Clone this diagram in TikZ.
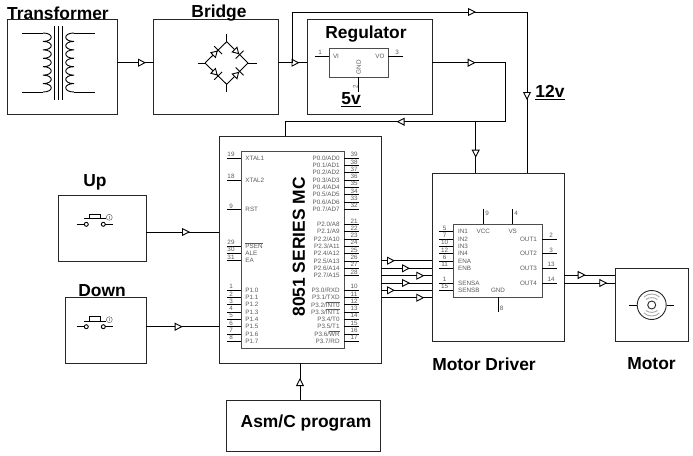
\documentclass[tikz,border=0pt]{standalone}
\usepackage{amsmath}
\usepackage{fontspec}
\setmainfont{Liberation Sans}
\usetikzlibrary{arrows.meta,calc,decorations.markings}

\begin{document}
\begin{tikzpicture}[
    x = 1pt, y = -1pt, % same numbers as the pixels of the picture
    line width = 0.9pt,
    block/.style = {draw = black!85, inner sep = 0pt, outer sep = 0pt},
    chip/.style = {draw = black!70, line width = 1pt, inner sep = 0pt, outer sep = 0pt},
    title/.style = {font = \bfseries\fontsize{17.4}{20}\selectfont},
    pinlabel/.style = {font = \fontsize{6.3}{7}\selectfont, text = black!65, inner sep = 0pt},
    flowtip/.tip = {Triangle[fill = white, length = 8pt, width = 8pt]},
    diodetip/.tip = {Triangle[fill = white, length = 7pt, width = 8pt] Bar[width = 11pt, sep = 0pt]},
    flow/.style = {postaction = {decorate, decoration = {markings,
        mark = at position #1 with {\arrow{flowtip}}}}},
    diode/.style = {postaction = {decorate, decoration = {markings,
        mark = at position 0.62 with {\arrow{diodetip}}}}}
    ]
    \useasboundingbox (0,0) rectangle (693,455);

    % blocks
    \node[block, minimum width = 110pt, minimum height = 95pt] (xfmr) at (62,66.5) {};
    \node[block, minimum width = 124.5pt, minimum height = 95pt] (bridge) at (215.75,66.5) {};
    \node[block, minimum width = 125pt, minimum height = 95pt] (reg) at (369.5,66.5) {};
    \node[block, minimum width = 162pt, minimum height = 227pt] (mcu) at (300,249.5) {};
    \node[block, minimum width = 132pt, minimum height = 168pt] (drv) at (498,257) {};
    \node[block, minimum width = 73pt, minimum height = 73pt] (mtr) at (651.5,304.5) {};
    \node[block, minimum width = 88pt, minimum height = 66pt] (up) at (102,228) {};
    \node[block, minimum width = 81pt, minimum height = 66pt] (down) at (105.5,330) {};
    \node[block, minimum width = 154pt, minimum height = 51pt] (asm) at (303.7,425.5) {};

    % titles
    \node[title] (t1) at (58,13) {Transformer};
    \node[title] (t2) at (219,13) {Bridge};
    \node[title] (t3) at (366,34) {Regulator};
    \node[title] (t4) at (351,100) {\underline{5v}};
    \node[title] (t5) at (550,93) {\underline{12v}};
    \node[title] (t6) at (95,182) {Up};
    \node[title] (t7) at (102,291) {Down};
    \node[title] (t8) at (484,364) {Motor Driver};
    \node[title] (t9) at (651.5,364) {Motor};
    \node[title] (t10) at (306,423) {Asm/C program};

    % connectors
    \coordinate (rail) at (0,62.7);
    \coordinate (top) at (292.7,12);
    \coordinate (feed) at (527,12);
    \coordinate (ret) at (505.3,121.7);
    \coordinate (tap) at (475.7,121.7);
    \draw[flow = 29pt] (xfmr.east |- rail) -- (bridge.west |- rail);
    \draw[flow = 21.5pt] (bridge.east |- rail) -- (reg.west |- rail);
    \draw[flow = 234pt, flow = 373pt] (top |- rail) -- (top) -- (feed) -- (feed |- drv.north);
    \draw[flow = 43.7pt, flow = 241pt] (reg.east |- rail) -- (ret |- rail) -- (ret) -- (285,121.7) -- (285,136);
    \draw[flow = 36pt] (tap) -- (tap |- drv.north);
    \foreach \yy/\dd in {260.7/14,268.3/29,275.7/43.3,283/29,290.3/14,297.7/43.3}
        \draw[flow = \dd pt] (mcu.east |- 0,\yy) -- (drv.west |- 0,\yy);
    \draw[flow = 21.7pt] (drv.east |- 0,275) -- (mtr.west |- 0,275);
    \draw[flow = 43.3pt] (drv.east |- 0,283) -- (mtr.west |- 0,283);
    \draw[flow = 44pt] (up.east |- 0,232) -- (mcu.west |- 0,232);
    \draw[flow = 36.7pt] (down.east |- 0,326.7) -- (mcu.west |- 0,326.7);
    \draw[flow = 22pt] (asm.north -| 300,0) -- (mcu.south -| 300,0);

    % transformer
    \foreach \xx/\dir in {43/11,74/-11} {
        \draw (\xx,33) \foreach \i in {0,...,6} {
            .. controls ($(\xx,33)+(\dir,8.43*\i)$) and ($(\xx,33)+(\dir,8.43*\i+8.43)$) .. ($(\xx,33)+(0,8.43*\i+8.43)$)};
    }
    \draw (22,33) -- (43,33) (22,92) -- (43,92) (74,33) -- (95,33) (74,92) -- (95,92);
    \foreach \xx in {54.3,58,62}
        \draw (\xx,26) -- (\xx,100);

    % bridge
    \coordinate (bt) at (226.7,41.7);
    \coordinate (br) at (248,63);
    \coordinate (bb) at (226.7,84.3);
    \coordinate (bl) at (205,63);
    \draw (bt) -- (226.7,33.7) (bb) -- (226.7,92) (bl) -- (197.5,63) (br) -- (256.5,63);
    \draw[diode] (bl) -- (bt);
    \draw[diode] (bt) -- (br);
    \draw[diode] (bl) -- (bb);
    \draw[diode] (bb) -- (br);

    % regulator
    \node[chip, minimum width = 59pt, minimum height = 29pt] (regchip) at (358.5,62.5) {};
    \draw (regchip.west |- 0,56) -- (314.7,56) (regchip.east |- 0,56) -- (402.7,56);
    \draw (358.7,77) -- (358.7,92);
    \node[pinlabel] (rp1) at (320,52) {1};
    \node[pinlabel] (rp3) at (397,52) {3};
    \node[pinlabel] (rvi) at (336,56) {VI};
    \node[pinlabel] (rvo) at (380,56) {VO};
    \node[pinlabel, rotate = 90] (rgnd) at (358.7,67) {GND};
    \node[pinlabel, rotate = 90] (rp2) at (355.5,87) {2};

    % microcontroller
    \node[chip, minimum width = 103pt, minimum height = 197pt] (mcuchip) at (292.5,249.5) {};
    \node[font = \bfseries\fontsize{17.4}{20}\selectfont, rotate = 90] (mcuname) at (299,247) {8051 SERIES MC};
    \foreach \yy/\nn/\tt in {158/19/XTAL1,180/18/XTAL2,209.5/9/RST,246/29/\(\overline{\mbox{PSEN}}\),253.3/30/ALE,260.7/31/EA} {
        \draw (227,\yy) -- (241,\yy);
        \node[pinlabel] at (231,\yy-3.5) {\nn};
        \node[pinlabel, anchor = west] at (245,\yy) {\tt};
    }
    \foreach \i [evaluate = \i as \yy using 290+7.33*\i, evaluate = \i as \nn using int(\i+1)] in {0,...,7} {
        \draw (227,\yy) -- (241,\yy);
        \node[pinlabel] at (231,\yy-3.5) {\nn};
        \node[pinlabel, anchor = west] at (245,\yy) {P1.\i};
    }
    \foreach \i [evaluate = \i as \yy using 158+7.33*\i, evaluate = \i as \nn using int(39-\i)] in {0,...,7} {
        \draw (344,\yy) -- (359,\yy);
        \node[pinlabel] at (354,\yy-3.5) {\nn};
        \node[pinlabel, anchor = east] at (340,\yy) {P0.\i/AD\i};
    }
    \foreach \i [evaluate = \i as \yy using 224.3+7.33*\i, evaluate = \i as \nn using int(21+\i), evaluate = \i as \aa using int(8+\i)] in {0,...,7} {
        \draw (344,\yy) -- (359,\yy);
        \node[pinlabel] at (354,\yy-3.5) {\nn};
        \node[pinlabel, anchor = east] at (340,\yy) {P2.\i/A\aa};
    }
    \foreach \i/\tt [evaluate = \i as \yy using 290+7.33*\i, evaluate = \i as \nn using int(10+\i)] in {0/RXD,1/TXD,2/\(\overline{\mbox{INT0}}\),3/\(\overline{\mbox{INT1}}\),4/T0,5/T1,6/\(\overline{\mbox{WR}}\),7/RD} {
        \draw (344,\yy) -- (359,\yy);
        \node[pinlabel] at (354,\yy-3.5) {\nn};
        \node[pinlabel, anchor = east] at (340,\yy) {P3.\i/\tt};
    }

    % motor driver
    \node[chip, minimum width = 89pt, minimum height = 73pt] (drvchip) at (497.5,260.5) {};
    \foreach \yy/\nn/\tt in {231.7/5/IN1,239/7/IN2,246.3/10/IN3,253.7/12/IN4,261/6/ENA,268.3/11/ENB,283/1/SENSA,290.3/15/SENSB} {
        \draw (439,\yy) -- (453,\yy);
        \node[pinlabel] at (444.7,\yy-3.5) {\nn};
        \node[pinlabel, anchor = west] at (457.7,\yy) {\tt};
    }
    \foreach \yy/\nn/\tt in {239/2/OUT1,253.7/3/OUT2,268.3/13/OUT3,283/14/OUT4} {
        \draw (542,\yy) -- (556.7,\yy);
        \node[pinlabel] at (551,\yy-3.5) {\nn};
        \node[pinlabel, anchor = east] at (537.3,\yy) {\tt};
    }
    \draw (483.3,209) -- (483.3,224) (512.7,209) -- (512.7,224) (498,297) -- (498,312);
    \node[pinlabel] (dvcc) at (483.3,231.7) {VCC};
    \node[pinlabel] (dvs) at (512.7,231.7) {VS};
    \node[pinlabel] (dgnd) at (498,290.3) {GND};
    \node[pinlabel] (dp9) at (487,213.7) {9};
    \node[pinlabel] (dp4) at (516,213.7) {4};
    \node[pinlabel] (dp8) at (501.5,308) {8};

    % push buttons
    \foreach \dy in {0,102.4} {
        \draw (89,214+\dy) -- (100.7,214+\dy) (89,214+\dy) -- (89,218.7+\dy) (100.7,214+\dy) -- (100.7,218.7+\dy);
        \draw (84,218.7+\dy) -- (105.7,218.7+\dy);
        \draw (86.3,224.3+\dy) circle (2pt) (103.3,224.3+\dy) circle (2pt);
        \draw (76.7,224.3+\dy) -- (84.3,224.3+\dy) (105.3,224.3+\dy) -- (113.3,224.3+\dy);
        \draw[black!60, line width = 0.5pt] (109.3,217.3+\dy) circle (3pt) (109.3,215.8+\dy) -- (109.3,218.8+\dy);
    }

    % motor
    \node[draw = black!85, circle, inner sep = 0pt, minimum size = 29pt] (rotor) at (651.7,305) {};
    \node[draw = black!85, circle, inner sep = 0pt, minimum size = 8pt] (shaft) at (651.7,305) {};
    \draw (rotor.west) -- (629,305) (rotor.east) -- (674,305);
    \draw[black!35] (646,299.5) .. controls (649,297) and (654.4,297) .. (657.4,299.5)
                    (644,297) .. controls (648,293) and (655.4,293) .. (659.4,297)
                    (646,310.5) .. controls (649,313) and (654.4,313) .. (657.4,310.5)
                    (644,313) .. controls (648,317) and (655.4,317) .. (659.4,313);
\end{tikzpicture}
\end{document}
